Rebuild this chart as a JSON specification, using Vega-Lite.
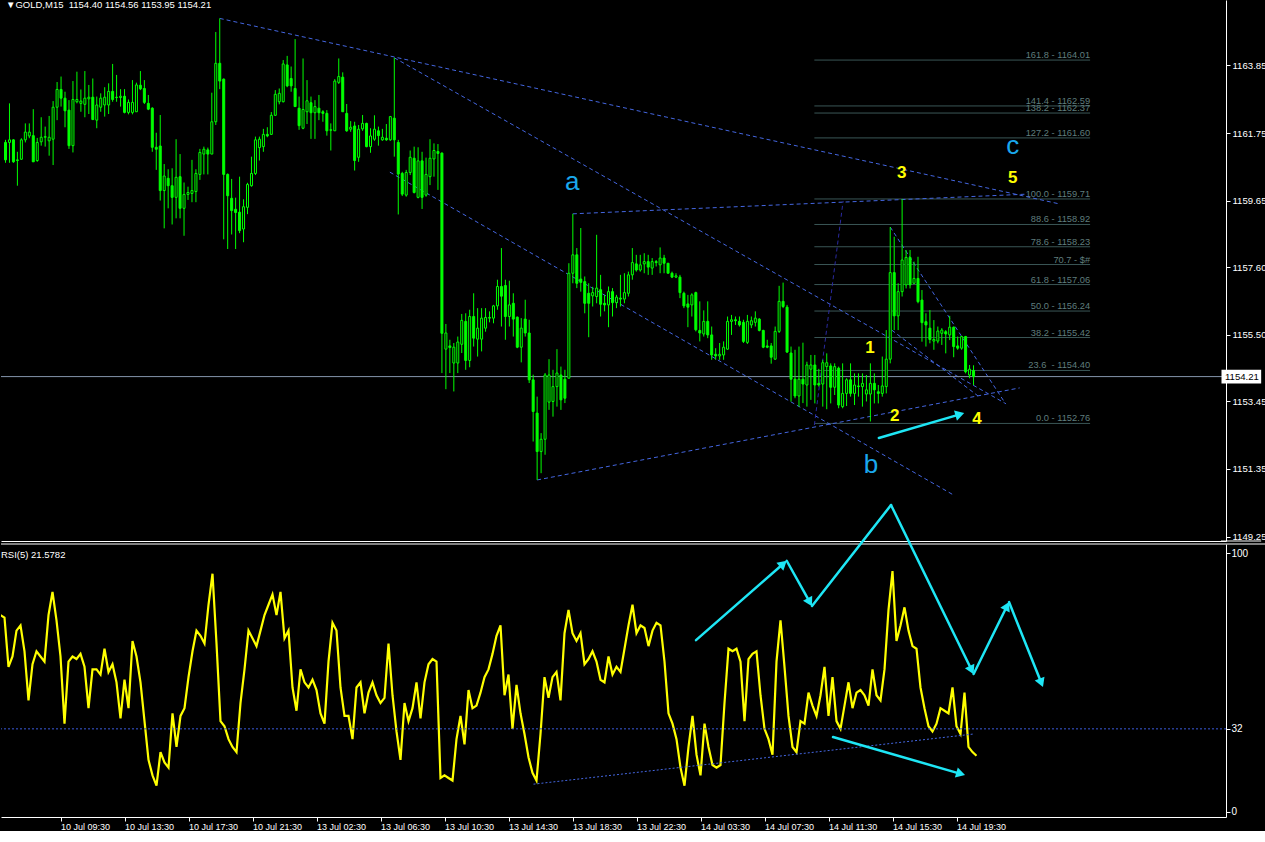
{
"$schema": "https://vega.github.io/schema/vega-lite/v6.json",
"background": "#000000",
"padding": 0,
"autosize": {"type": "pad"},
"spacing": 3,
"bounds": "flush",
"config": {
 "view": {"stroke": null},
 "axis": {"grid": false, "title": null, "domainColor": "#ffffff", "tickColor": "#ffffff", "labelColor": "#ffffff", "labelFont": "Liberation Sans", "labelFontSize": 10, "tickSize": 4, "domainWidth": 1, "tickWidth": 1},
 "text": {"font": "Liberation Sans"}
},
"datasets": {
 "candles": [
{"i":0,"o":1161.46,"h":1161.54,"l":1160.83,"c":1160.92},
{"i":1,"o":1161.46,"h":1162.67,"l":1160.83,"c":1161.54},
{"i":2,"o":1161.54,"h":1161.56,"l":1160.83,"c":1160.86},
{"i":3,"o":1160.92,"h":1161.17,"l":1160.12,"c":1160.90},
{"i":4,"o":1160.94,"h":1161.59,"l":1160.92,"c":1161.54},
{"i":5,"o":1161.54,"h":1162.05,"l":1161.46,"c":1161.78},
{"i":6,"o":1161.66,"h":1162.05,"l":1161.59,"c":1161.78},
{"i":7,"o":1161.67,"h":1162.49,"l":1160.86,"c":1160.86},
{"i":8,"o":1160.90,"h":1161.60,"l":1160.86,"c":1161.46},
{"i":9,"o":1161.48,"h":1162.24,"l":1161.36,"c":1161.62},
{"i":10,"o":1161.62,"h":1161.95,"l":1161.33,"c":1161.64},
{"i":11,"o":1161.51,"h":1162.28,"l":1161.05,"c":1161.62},
{"i":12,"o":1161.56,"h":1162.74,"l":1160.76,"c":1162.55},
{"i":13,"o":1162.55,"h":1163.33,"l":1162.15,"c":1163.10},
{"i":14,"o":1163.10,"h":1163.50,"l":1162.57,"c":1162.83},
{"i":15,"o":1162.83,"h":1163.03,"l":1161.93,"c":1162.44},
{"i":16,"o":1162.46,"h":1162.77,"l":1161.26,"c":1161.36},
{"i":17,"o":1161.36,"h":1163.36,"l":1161.15,"c":1162.79},
{"i":18,"o":1162.72,"h":1163.65,"l":1162.67,"c":1162.79},
{"i":19,"o":1162.67,"h":1163.10,"l":1162.41,"c":1162.74},
{"i":20,"o":1162.64,"h":1163.67,"l":1162.24,"c":1162.83},
{"i":21,"o":1162.81,"h":1163.24,"l":1162.34,"c":1162.86},
{"i":22,"o":1162.86,"h":1163.44,"l":1162.15,"c":1162.17},
{"i":23,"o":1162.15,"h":1162.88,"l":1161.90,"c":1162.62},
{"i":24,"o":1162.55,"h":1162.98,"l":1162.41,"c":1162.83},
{"i":25,"o":1162.62,"h":1163.17,"l":1162.26,"c":1162.86},
{"i":26,"o":1162.62,"h":1163.29,"l":1162.34,"c":1163.04},
{"i":27,"o":1163.04,"h":1163.89,"l":1162.72,"c":1162.79},
{"i":28,"o":1162.86,"h":1163.55,"l":1162.72,"c":1162.85},
{"i":29,"o":1162.85,"h":1163.11,"l":1162.57,"c":1162.89},
{"i":30,"o":1162.89,"h":1163.11,"l":1162.36,"c":1162.39},
{"i":31,"o":1162.39,"h":1162.79,"l":1162.33,"c":1162.70},
{"i":32,"o":1162.39,"h":1163.39,"l":1162.33,"c":1162.70},
{"i":33,"o":1162.41,"h":1163.31,"l":1162.41,"c":1163.24},
{"i":34,"o":1163.23,"h":1163.67,"l":1163.08,"c":1163.12},
{"i":35,"o":1163.13,"h":1163.39,"l":1162.65,"c":1162.70},
{"i":36,"o":1162.67,"h":1162.93,"l":1162.46,"c":1162.49},
{"i":37,"o":1162.52,"h":1162.55,"l":1161.17,"c":1161.31},
{"i":38,"o":1161.31,"h":1161.76,"l":1160.61,"c":1161.25},
{"i":39,"o":1161.35,"h":1162.31,"l":1159.66,"c":1159.97},
{"i":40,"o":1159.97,"h":1160.79,"l":1158.80,"c":1160.42},
{"i":41,"o":1160.35,"h":1160.63,"l":1159.42,"c":1160.12},
{"i":42,"o":1160.12,"h":1160.66,"l":1158.92,"c":1159.76},
{"i":43,"o":1159.76,"h":1161.56,"l":1159.11,"c":1160.38},
{"i":44,"o":1160.40,"h":1161.10,"l":1159.11,"c":1159.42},
{"i":45,"o":1159.42,"h":1160.22,"l":1158.57,"c":1159.85},
{"i":46,"o":1159.85,"h":1160.09,"l":1159.68,"c":1159.91},
{"i":47,"o":1159.88,"h":1160.92,"l":1159.61,"c":1159.97},
{"i":48,"o":1159.94,"h":1160.63,"l":1159.61,"c":1160.50},
{"i":49,"o":1160.47,"h":1161.26,"l":1160.30,"c":1161.15},
{"i":50,"o":1161.10,"h":1161.33,"l":1160.47,"c":1161.25},
{"i":51,"o":1161.23,"h":1161.30,"l":1160.47,"c":1161.10},
{"i":52,"o":1161.10,"h":1163.00,"l":1161.10,"c":1162.10},
{"i":53,"o":1162.10,"h":1164.88,"l":1162.00,"c":1163.91},
{"i":54,"o":1163.91,"h":1165.30,"l":1163.11,"c":1163.36},
{"i":55,"o":1163.42,"h":1163.44,"l":1158.46,"c":1160.47},
{"i":56,"o":1160.47,"h":1160.50,"l":1158.16,"c":1159.81},
{"i":57,"o":1159.73,"h":1160.33,"l":1158.61,"c":1159.35},
{"i":58,"o":1159.39,"h":1159.75,"l":1158.16,"c":1159.29},
{"i":59,"o":1159.30,"h":1160.40,"l":1158.65,"c":1158.73},
{"i":60,"o":1158.78,"h":1159.70,"l":1158.37,"c":1159.47},
{"i":61,"o":1159.45,"h":1160.21,"l":1159.24,"c":1160.16},
{"i":62,"o":1160.12,"h":1161.02,"l":1160.09,"c":1160.50},
{"i":63,"o":1160.50,"h":1161.64,"l":1160.45,"c":1161.54},
{"i":64,"o":1161.30,"h":1161.64,"l":1160.90,"c":1161.56},
{"i":65,"o":1161.33,"h":1161.88,"l":1161.17,"c":1161.71},
{"i":66,"o":1161.71,"h":1161.93,"l":1161.62,"c":1161.66},
{"i":67,"o":1161.71,"h":1162.40,"l":1161.69,"c":1162.30},
{"i":68,"o":1162.30,"h":1163.08,"l":1162.28,"c":1162.95},
{"i":69,"o":1162.72,"h":1163.13,"l":1162.64,"c":1162.98},
{"i":70,"o":1162.72,"h":1164.01,"l":1162.70,"c":1163.89},
{"i":71,"o":1163.86,"h":1164.14,"l":1163.17,"c":1163.21},
{"i":72,"o":1163.44,"h":1163.81,"l":1163.03,"c":1163.21},
{"i":73,"o":1163.13,"h":1164.66,"l":1162.57,"c":1162.57},
{"i":74,"o":1162.52,"h":1162.88,"l":1161.85,"c":1161.98},
{"i":75,"o":1161.90,"h":1164.06,"l":1161.87,"c":1162.48},
{"i":76,"o":1162.41,"h":1163.39,"l":1162.03,"c":1162.75},
{"i":77,"o":1162.69,"h":1162.88,"l":1161.57,"c":1162.38},
{"i":78,"o":1162.38,"h":1162.77,"l":1161.57,"c":1162.57},
{"i":79,"o":1162.52,"h":1162.93,"l":1162.15,"c":1162.38},
{"i":80,"o":1162.41,"h":1162.46,"l":1162.10,"c":1162.36},
{"i":81,"o":1162.36,"h":1162.46,"l":1161.67,"c":1161.82},
{"i":82,"o":1161.85,"h":1162.05,"l":1161.21,"c":1161.84},
{"i":83,"o":1161.82,"h":1163.42,"l":1161.82,"c":1163.36},
{"i":84,"o":1163.32,"h":1164.06,"l":1163.27,"c":1163.50},
{"i":85,"o":1163.48,"h":1163.63,"l":1162.41,"c":1162.41},
{"i":86,"o":1162.36,"h":1162.65,"l":1161.79,"c":1161.82},
{"i":87,"o":1161.87,"h":1162.12,"l":1161.79,"c":1161.93},
{"i":88,"o":1161.97,"h":1162.10,"l":1160.59,"c":1160.90},
{"i":89,"o":1161.00,"h":1162.00,"l":1160.86,"c":1161.87},
{"i":90,"o":1161.88,"h":1162.31,"l":1161.82,"c":1162.05},
{"i":91,"o":1162.05,"h":1162.07,"l":1161.31,"c":1161.33},
{"i":92,"o":1161.33,"h":1161.90,"l":1161.14,"c":1161.66},
{"i":93,"o":1161.56,"h":1162.30,"l":1161.51,"c":1161.87},
{"i":94,"o":1161.82,"h":1161.95,"l":1161.36,"c":1161.67},
{"i":95,"o":1161.54,"h":1161.88,"l":1161.51,"c":1161.62},
{"i":96,"o":1161.59,"h":1162.03,"l":1161.51,"c":1161.54},
{"i":97,"o":1161.54,"h":1162.28,"l":1161.51,"c":1162.26},
{"i":98,"o":1162.21,"h":1164.08,"l":1161.02,"c":1161.54},
{"i":99,"o":1161.46,"h":1161.54,"l":1159.23,"c":1160.48},
{"i":100,"o":1160.50,"h":1160.55,"l":1159.80,"c":1159.86},
{"i":101,"o":1159.83,"h":1160.61,"l":1159.78,"c":1160.53},
{"i":102,"o":1160.53,"h":1161.21,"l":1160.45,"c":1161.00},
{"i":103,"o":1160.97,"h":1161.33,"l":1159.88,"c":1159.91},
{"i":104,"o":1159.76,"h":1161.31,"l":1159.73,"c":1160.89},
{"i":105,"o":1160.89,"h":1161.17,"l":1159.40,"c":1159.76},
{"i":106,"o":1159.83,"h":1160.99,"l":1159.78,"c":1160.47},
{"i":107,"o":1160.40,"h":1161.56,"l":1160.14,"c":1160.97},
{"i":108,"o":1160.95,"h":1161.43,"l":1160.40,"c":1161.21},
{"i":109,"o":1161.18,"h":1161.41,"l":1159.99,"c":1161.12},
{"i":110,"o":1161.13,"h":1161.15,"l":1154.32,"c":1155.55},
{"i":111,"o":1155.06,"h":1155.84,"l":1153.82,"c":1155.56},
{"i":112,"o":1155.16,"h":1155.35,"l":1154.32,"c":1155.11},
{"i":113,"o":1154.63,"h":1155.25,"l":1153.75,"c":1155.12},
{"i":114,"o":1154.63,"h":1155.45,"l":1154.32,"c":1155.28},
{"i":115,"o":1155.21,"h":1156.15,"l":1154.94,"c":1155.95},
{"i":116,"o":1155.92,"h":1156.17,"l":1154.42,"c":1154.71},
{"i":117,"o":1154.71,"h":1156.28,"l":1154.50,"c":1156.07},
{"i":118,"o":1156.07,"h":1156.79,"l":1155.14,"c":1155.40},
{"i":119,"o":1155.37,"h":1156.33,"l":1154.83,"c":1155.71},
{"i":120,"o":1155.37,"h":1156.33,"l":1154.99,"c":1156.02},
{"i":121,"o":1155.71,"h":1156.33,"l":1155.60,"c":1156.04},
{"i":122,"o":1156.04,"h":1156.23,"l":1155.89,"c":1156.02},
{"i":123,"o":1156.02,"h":1156.43,"l":1155.86,"c":1156.40},
{"i":124,"o":1156.40,"h":1157.21,"l":1156.28,"c":1157.00},
{"i":125,"o":1157.00,"h":1158.19,"l":1155.76,"c":1156.70},
{"i":126,"o":1157.03,"h":1157.21,"l":1155.35,"c":1156.07},
{"i":127,"o":1156.07,"h":1157.18,"l":1155.76,"c":1156.43},
{"i":128,"o":1156.48,"h":1156.79,"l":1155.45,"c":1155.99},
{"i":129,"o":1156.05,"h":1156.07,"l":1155.09,"c":1155.12},
{"i":130,"o":1155.12,"h":1156.02,"l":1154.65,"c":1155.71},
{"i":131,"o":1155.99,"h":1156.59,"l":1155.45,"c":1155.56},
{"i":132,"o":1155.56,"h":1155.97,"l":1154.01,"c":1154.11},
{"i":133,"o":1154.11,"h":1154.27,"l":1152.20,"c":1153.13},
{"i":134,"o":1153.08,"h":1153.59,"l":1151.01,"c":1151.89},
{"i":135,"o":1151.89,"h":1152.46,"l":1151.22,"c":1152.27},
{"i":136,"o":1152.27,"h":1154.32,"l":1151.79,"c":1154.26},
{"i":137,"o":1153.42,"h":1154.75,"l":1153.18,"c":1154.26},
{"i":138,"o":1153.44,"h":1154.42,"l":1152.97,"c":1153.90},
{"i":139,"o":1153.90,"h":1155.06,"l":1153.28,"c":1154.32},
{"i":140,"o":1154.26,"h":1154.52,"l":1153.18,"c":1153.49},
{"i":141,"o":1154.13,"h":1154.42,"l":1153.39,"c":1153.54},
{"i":142,"o":1154.16,"h":1157.72,"l":1154.16,"c":1157.41},
{"i":143,"o":1157.41,"h":1159.25,"l":1157.10,"c":1157.98},
{"i":144,"o":1157.98,"h":1158.19,"l":1156.95,"c":1157.10},
{"i":145,"o":1157.23,"h":1158.81,"l":1156.84,"c":1157.13},
{"i":146,"o":1157.15,"h":1157.31,"l":1156.17,"c":1156.48},
{"i":147,"o":1156.79,"h":1157.10,"l":1155.43,"c":1156.48},
{"i":148,"o":1156.71,"h":1156.99,"l":1156.38,"c":1156.81},
{"i":149,"o":1156.69,"h":1158.60,"l":1156.48,"c":1156.95},
{"i":150,"o":1156.90,"h":1157.36,"l":1156.07,"c":1156.45},
{"i":151,"o":1156.48,"h":1156.74,"l":1156.23,"c":1156.43},
{"i":152,"o":1156.43,"h":1157.00,"l":1155.74,"c":1156.84},
{"i":153,"o":1156.84,"h":1156.95,"l":1156.07,"c":1156.50},
{"i":154,"o":1156.50,"h":1156.74,"l":1156.33,"c":1156.67},
{"i":155,"o":1156.64,"h":1157.36,"l":1156.38,"c":1156.61},
{"i":156,"o":1156.61,"h":1157.41,"l":1156.48,"c":1156.81},
{"i":157,"o":1156.79,"h":1157.46,"l":1156.69,"c":1157.36},
{"i":158,"o":1157.36,"h":1158.19,"l":1157.21,"c":1157.74},
{"i":159,"o":1157.70,"h":1157.98,"l":1157.46,"c":1157.51},
{"i":160,"o":1157.51,"h":1157.98,"l":1157.46,"c":1157.67},
{"i":161,"o":1157.70,"h":1158.03,"l":1157.41,"c":1157.77},
{"i":162,"o":1157.77,"h":1157.98,"l":1157.36,"c":1157.60},
{"i":163,"o":1157.57,"h":1157.88,"l":1157.36,"c":1157.77},
{"i":164,"o":1157.77,"h":1157.82,"l":1157.62,"c":1157.74},
{"i":165,"o":1157.67,"h":1158.21,"l":1157.41,"c":1157.88},
{"i":166,"o":1157.88,"h":1157.98,"l":1157.41,"c":1157.72},
{"i":167,"o":1157.72,"h":1157.72,"l":1157.41,"c":1157.41},
{"i":168,"o":1157.41,"h":1157.46,"l":1157.26,"c":1157.29},
{"i":169,"o":1157.29,"h":1157.41,"l":1157.26,"c":1157.33},
{"i":170,"o":1157.29,"h":1157.36,"l":1156.64,"c":1156.81},
{"i":171,"o":1156.79,"h":1156.84,"l":1156.33,"c":1156.40},
{"i":172,"o":1156.46,"h":1156.74,"l":1155.74,"c":1156.36},
{"i":173,"o":1156.43,"h":1156.79,"l":1156.07,"c":1156.74},
{"i":174,"o":1156.81,"h":1156.84,"l":1155.61,"c":1155.66},
{"i":175,"o":1155.64,"h":1156.54,"l":1155.30,"c":1155.56},
{"i":176,"o":1155.53,"h":1156.26,"l":1155.45,"c":1155.92},
{"i":177,"o":1155.92,"h":1156.54,"l":1155.40,"c":1155.50},
{"i":178,"o":1155.50,"h":1155.76,"l":1154.73,"c":1154.88},
{"i":179,"o":1154.90,"h":1155.09,"l":1154.73,"c":1154.85},
{"i":180,"o":1154.85,"h":1155.25,"l":1154.73,"c":1154.90},
{"i":181,"o":1154.88,"h":1155.30,"l":1154.73,"c":1155.12},
{"i":182,"o":1155.06,"h":1156.07,"l":1155.04,"c":1155.92},
{"i":183,"o":1155.92,"h":1156.12,"l":1155.50,"c":1155.97},
{"i":184,"o":1155.97,"h":1156.07,"l":1155.81,"c":1155.94},
{"i":185,"o":1155.92,"h":1156.07,"l":1155.76,"c":1155.81},
{"i":186,"o":1155.89,"h":1155.97,"l":1155.25,"c":1155.30},
{"i":187,"o":1155.27,"h":1156.12,"l":1155.22,"c":1155.92},
{"i":188,"o":1155.81,"h":1156.07,"l":1155.71,"c":1155.94},
{"i":189,"o":1155.89,"h":1156.23,"l":1155.76,"c":1156.02},
{"i":190,"o":1155.99,"h":1156.02,"l":1155.61,"c":1155.64},
{"i":191,"o":1155.64,"h":1155.66,"l":1155.09,"c":1155.12},
{"i":192,"o":1155.16,"h":1155.35,"l":1155.09,"c":1155.12},
{"i":193,"o":1155.16,"h":1155.25,"l":1154.61,"c":1154.81},
{"i":194,"o":1154.75,"h":1155.76,"l":1154.73,"c":1155.61},
{"i":195,"o":1155.61,"h":1157.02,"l":1155.56,"c":1156.54},
{"i":196,"o":1156.54,"h":1157.12,"l":1156.33,"c":1156.38},
{"i":197,"o":1156.36,"h":1156.43,"l":1154.94,"c":1154.97},
{"i":198,"o":1154.94,"h":1155.14,"l":1153.44,"c":1154.13},
{"i":199,"o":1154.13,"h":1155.04,"l":1153.54,"c":1153.61},
{"i":200,"o":1153.61,"h":1155.14,"l":1153.28,"c":1154.13},
{"i":201,"o":1154.13,"h":1155.26,"l":1153.39,"c":1153.98},
{"i":202,"o":1153.95,"h":1154.67,"l":1153.28,"c":1154.57},
{"i":203,"o":1154.44,"h":1154.88,"l":1153.49,"c":1154.57},
{"i":204,"o":1154.57,"h":1154.88,"l":1153.38,"c":1153.95},
{"i":205,"o":1154.00,"h":1154.45,"l":1153.90,"c":1153.95},
{"i":206,"o":1153.98,"h":1154.73,"l":1153.28,"c":1154.64},
{"i":207,"o":1154.52,"h":1154.93,"l":1153.20,"c":1154.64},
{"i":208,"o":1154.54,"h":1154.62,"l":1153.38,"c":1153.88},
{"i":209,"o":1153.88,"h":1154.62,"l":1153.64,"c":1154.52},
{"i":210,"o":1154.47,"h":1154.52,"l":1153.23,"c":1153.33},
{"i":211,"o":1153.28,"h":1154.62,"l":1153.23,"c":1153.69},
{"i":212,"o":1153.69,"h":1154.16,"l":1153.30,"c":1154.11},
{"i":213,"o":1154.11,"h":1154.62,"l":1153.59,"c":1153.69},
{"i":214,"o":1153.69,"h":1154.31,"l":1153.33,"c":1153.95},
{"i":215,"o":1153.92,"h":1154.31,"l":1153.59,"c":1153.90},
{"i":216,"o":1153.90,"h":1154.31,"l":1153.28,"c":1154.00},
{"i":217,"o":1153.67,"h":1154.26,"l":1153.44,"c":1153.80},
{"i":218,"o":1153.67,"h":1154.62,"l":1152.82,"c":1154.00},
{"i":219,"o":1154.00,"h":1154.31,"l":1153.38,"c":1153.80},
{"i":220,"o":1153.74,"h":1153.95,"l":1153.38,"c":1153.69},
{"i":221,"o":1153.69,"h":1154.83,"l":1153.59,"c":1153.92},
{"i":222,"o":1153.90,"h":1155.65,"l":1153.69,"c":1154.75},
{"i":223,"o":1154.75,"h":1158.84,"l":1154.62,"c":1157.43},
{"i":224,"o":1157.43,"h":1158.54,"l":1155.65,"c":1156.09},
{"i":225,"o":1156.09,"h":1157.10,"l":1155.65,"c":1156.84},
{"i":226,"o":1156.84,"h":1159.71,"l":1156.69,"c":1157.82},
{"i":227,"o":1157.05,"h":1158.13,"l":1156.94,"c":1157.90},
{"i":228,"o":1157.90,"h":1158.13,"l":1156.94,"c":1157.05},
{"i":229,"o":1157.10,"h":1157.77,"l":1157.08,"c":1157.25},
{"i":230,"o":1157.25,"h":1157.92,"l":1156.48,"c":1156.53},
{"i":231,"o":1156.58,"h":1156.89,"l":1155.29,"c":1155.88},
{"i":232,"o":1155.91,"h":1156.17,"l":1155.14,"c":1155.81},
{"i":233,"o":1155.71,"h":1156.27,"l":1155.24,"c":1155.36},
{"i":234,"o":1155.31,"h":1155.96,"l":1155.04,"c":1155.36},
{"i":235,"o":1155.31,"h":1155.76,"l":1155.24,"c":1155.62},
{"i":236,"o":1155.55,"h":1155.71,"l":1155.19,"c":1155.65},
{"i":237,"o":1155.60,"h":1155.65,"l":1154.93,"c":1155.53},
{"i":238,"o":1155.50,"h":1156.09,"l":1155.34,"c":1155.74},
{"i":239,"o":1155.74,"h":1155.76,"l":1154.81,"c":1155.14},
{"i":240,"o":1155.16,"h":1155.45,"l":1155.04,"c":1155.09},
{"i":241,"o":1155.09,"h":1155.47,"l":1155.04,"c":1155.45},
{"i":242,"o":1155.45,"h":1155.47,"l":1154.31,"c":1154.36},
{"i":243,"o":1154.26,"h":1154.57,"l":1154.16,"c":1154.44},
{"i":244,"o":1154.40,"h":1154.56,"l":1153.95,"c":1154.21}
 ],
 "rsi": [
{"i":0,"v":76},{"i":1,"v":75},{"i":2,"v":56},{"i":3,"v":60},{"i":4,"v":70},{"i":5,"v":72},{"i":6,"v":62},{"i":7,"v":43},{"i":8,"v":57},{"i":9,"v":62},
{"i":10,"v":60},{"i":11,"v":58},{"i":12,"v":76},{"i":13,"v":85},{"i":14,"v":74},{"i":15,"v":60},{"i":16,"v":34},{"i":17,"v":58},{"i":18,"v":60},{"i":19,"v":59},
{"i":20,"v":61},{"i":21,"v":56},{"i":22,"v":40},{"i":23,"v":55},{"i":24,"v":55},{"i":25,"v":53},{"i":26,"v":63},{"i":27,"v":54},{"i":28,"v":57},{"i":29,"v":50},
{"i":30,"v":36},{"i":31,"v":51},{"i":32,"v":40},{"i":33,"v":66},{"i":34,"v":60},{"i":35,"v":50},{"i":36,"v":35},{"i":37,"v":20},{"i":38,"v":14},{"i":39,"v":10},
{"i":40,"v":23},{"i":41,"v":19},{"i":42,"v":17},{"i":43,"v":38},{"i":44,"v":25},{"i":45,"v":37},{"i":46,"v":40},{"i":47,"v":52},{"i":48,"v":62},{"i":49,"v":70},
{"i":50,"v":68},{"i":51,"v":65},{"i":52,"v":80},{"i":53,"v":92},{"i":54,"v":65},{"i":55,"v":35},{"i":56,"v":33},{"i":57,"v":28},{"i":58,"v":25},{"i":59,"v":23},
{"i":60,"v":42},{"i":61,"v":55},{"i":62,"v":70},{"i":63,"v":67},{"i":64,"v":64},{"i":65,"v":70},{"i":66,"v":76},{"i":67,"v":80},{"i":68,"v":84},{"i":69,"v":76},
{"i":70,"v":85},{"i":71,"v":67},{"i":72,"v":70},{"i":73,"v":48},{"i":74,"v":39},{"i":75,"v":55},{"i":76,"v":50},{"i":77,"v":48},{"i":78,"v":51},{"i":79,"v":47},
{"i":80,"v":38},{"i":81,"v":34},{"i":82,"v":58},{"i":83,"v":73},{"i":84,"v":70},{"i":85,"v":48},{"i":86,"v":37},{"i":87,"v":37},{"i":88,"v":28},{"i":89,"v":48},
{"i":90,"v":50},{"i":91,"v":38},{"i":92,"v":46},{"i":93,"v":50},{"i":94,"v":45},{"i":95,"v":42},{"i":96,"v":44},{"i":97,"v":65},{"i":98,"v":45},{"i":99,"v":31},
{"i":100,"v":20},{"i":101,"v":42},{"i":102,"v":35},{"i":103,"v":40},{"i":104,"v":50},{"i":105,"v":36},{"i":106,"v":50},{"i":107,"v":57},{"i":108,"v":59},{"i":109,"v":58},
{"i":110,"v":13},{"i":111,"v":14},{"i":112,"v":13},{"i":113,"v":12},{"i":114,"v":28},{"i":115,"v":37},{"i":116,"v":26},{"i":117,"v":47},{"i":118,"v":40},{"i":119,"v":41},
{"i":120,"v":46},{"i":121,"v":52},{"i":122,"v":55},{"i":123,"v":61},{"i":124,"v":68},{"i":125,"v":72},{"i":126,"v":45},{"i":127,"v":53},{"i":128,"v":32},{"i":129,"v":49},
{"i":130,"v":38},{"i":131,"v":30},{"i":132,"v":21},{"i":133,"v":15},{"i":134,"v":12},{"i":135,"v":30},{"i":136,"v":52},{"i":137,"v":44},{"i":138,"v":52},{"i":139,"v":54},
{"i":140,"v":43},{"i":141,"v":69},{"i":142,"v":78},{"i":143,"v":69},{"i":144,"v":66},{"i":145,"v":69},{"i":146,"v":57},{"i":147,"v":59},{"i":148,"v":62},{"i":149,"v":58},
{"i":150,"v":51},{"i":151,"v":50},{"i":152,"v":60},{"i":153,"v":53},{"i":154,"v":56},{"i":155,"v":54},{"i":156,"v":63},{"i":157,"v":72},{"i":158,"v":80},{"i":159,"v":69},
{"i":160,"v":72},{"i":161,"v":71},{"i":162,"v":64},{"i":163,"v":70},{"i":164,"v":73},{"i":165,"v":72},{"i":166,"v":58},{"i":167,"v":38},{"i":168,"v":34},{"i":169,"v":28},
{"i":170,"v":17},{"i":171,"v":10},{"i":172,"v":25},{"i":173,"v":37},{"i":174,"v":22},{"i":175,"v":14},{"i":176,"v":34},{"i":177,"v":25},{"i":178,"v":18},{"i":179,"v":17},
{"i":180,"v":18},{"i":181,"v":42},{"i":182,"v":63},{"i":183,"v":62},{"i":184,"v":63},{"i":185,"v":58},{"i":186,"v":35},{"i":187,"v":59},{"i":188,"v":61},{"i":189,"v":62},
{"i":190,"v":45},{"i":191,"v":32},{"i":192,"v":28},{"i":193,"v":22},{"i":194,"v":58},{"i":195,"v":74},{"i":196,"v":56},{"i":197,"v":37},{"i":198,"v":25},{"i":199,"v":23},
{"i":200,"v":35},{"i":201,"v":34},{"i":202,"v":46},{"i":203,"v":41},{"i":204,"v":37},{"i":205,"v":45},{"i":206,"v":56},{"i":207,"v":37},{"i":208,"v":52},{"i":209,"v":35},
{"i":210,"v":32},{"i":211,"v":41},{"i":212,"v":50},{"i":213,"v":40},{"i":214,"v":46},{"i":215,"v":47},{"i":216,"v":45},{"i":217,"v":41},{"i":218,"v":55},{"i":219,"v":45},
{"i":220,"v":43},{"i":221,"v":55},{"i":222,"v":78},{"i":223,"v":93},{"i":224,"v":66},{"i":225,"v":72},{"i":226,"v":79},{"i":227,"v":70},{"i":228,"v":64},{"i":229,"v":63},
{"i":230,"v":48},{"i":231,"v":40},{"i":232,"v":33},{"i":233,"v":31},{"i":234,"v":34},{"i":235,"v":40},{"i":236,"v":39},{"i":237,"v":38},{"i":238,"v":48},{"i":239,"v":33},
{"i":240,"v":30},{"i":241,"v":46},{"i":242,"v":25},{"i":243,"v":23},{"i":244,"v":21.58}
 ],
 "fib": [
{"lv":"161.8 - 1164.01","p":1164.01},{"lv":"141.4 - 1162.59","p":1162.59},{"lv":"138.2 - 1162.37","p":1162.37},{"lv":"127.2 - 1161.60","p":1161.60},
{"lv":"100.0 - 1159.71","p":1159.71},{"lv":"88.6 - 1158.92","p":1158.92},{"lv":"78.6 - 1158.23","p":1158.23},{"lv":"70.7 - $#","p":1157.68},
{"lv":"61.8 - 1157.06","p":1157.06},{"lv":"50.0 - 1156.24","p":1156.24},{"lv":"38.2 - 1155.42","p":1155.42},{"lv":"23.6 \u00a0- 1154.40","p":1154.40},{"lv":"0.0 - 1152.76","p":1152.76}
 ],
 "blueLines": [
{"i1":54,"p1":1165.30,"i2":265.88,"p2":1159.55},
{"i1":98,"p1":1164.08,"i2":251.88,"p2":1153.39},
{"i1":96.88,"p1":1160.54,"i2":238.88,"p2":1150.55},
{"i1":143,"p1":1159.25,"i2":257.63,"p2":1159.86},
{"i1":134,"p1":1151.01,"i2":255.63,"p2":1153.86},
{"i1":223,"p1":1158.84,"i2":252.13,"p2":1153.36},
{"i1":223.38,"p1":1155.65,"i2":245.13,"p2":1153.61}
 ],
 "navyLine": [{"i1":203.88,"p1":1152.71,"i2":211.13,"p2":1159.65}],
 "waveLetters": [{"t":"a","i":142.88,"p":1159.99},{"t":"b","i":218.13,"p":1151.23},{"t":"c","i":253.88,"p":1161.11}],
 "waveNumbers": [{"t":"1","i":217.88,"p":1154.94},{"t":"2","i":224.13,"p":1152.83},{"t":"3","i":225.88,"p":1160.36},{"t":"4","i":244.88,"p":1152.74},{"t":"5","i":253.88,"p":1160.20}],
 "priceArrow": [{"i1":220.13,"p1":1152.31,"i2":240.55,"p2":1153.04}],
 "priceArrowHead": [{"i":240.55,"p":1153.04,"dir":73.8}],
 "rsiTrend": [{"i1":133.25,"v1":10.6,"i2":243.28,"v2":30.0}],
 "rsiArrows": [
{"i1":173.88,"v1":66.34,"i2":195.70,"v2":95.86},
{"i1":196.55,"v1":97.02,"i2":202.33,"v2":81.0},
{"i1":202.88,"v1":79.50,"i2":222.63,"v2":118.57},
{"i1":222.63,"v1":118.57,"i2":242.78,"v2":54.74},
{"i1":243.28,"v1":53.19,"i2":251.63,"v2":79.5},
{"i1":252.13,"v1":81.04,"i2":260.2,"v2":49.8},
{"i1":208.13,"v1":28.82,"i2":240.05,"v2":14.6}
 ],
 "rsiArrowHeads": [
{"i":195.70,"v":95.86,"dir":48.8},{"i":202.33,"v":81.0,"dir":150.8},{"i":242.78,"v":54.74,"dir":153.9},
{"i":251.63,"v":79.5,"dir":26.2},{"i":260.2,"v":49.8,"dir":158.2},{"i":240.05,"v":14.6,"dir":106.1}
 ]
},
"vconcat": [
{
 "width": 1225,
 "height": 541,
 "layer": [
  {
   "data": {"name": "fib"},
   "mark": {"type": "rule", "color": "#3a5656", "strokeWidth": 1},
   "encoding": {
    "x": {"datum": 203.88, "type": "quantitative", "scale": {"domain": [0.125, 306.375], "nice": false, "zero": false}, "axis": {"labels": false, "ticks": false, "domain": true}},
    "x2": {"datum": 273.38},
    "y": {"field": "p", "type": "quantitative", "scale": {"domain": [1149.12, 1165.87], "nice": false, "zero": false},
      "axis": {"orient": "right", "values": [1149.25,1150.30,1151.35,1152.40,1153.45,1154.45,1155.50,1156.55,1157.60,1158.65,1159.65,1160.70,1161.75,1162.80,1163.85,1164.85], "format": ".2f", "labelFontSize": 9.6, "labelPadding": 2, "labelOverlap": false, "labelBound": false, "labelFlush": false}}
   }
  },
  {
   "data": {"name": "fib"},
   "mark": {"type": "text", "color": "#5f7d7d", "fontSize": 9.3, "align": "right", "baseline": "alphabetic", "dy": -2},
   "encoding": {
    "x": {"datum": 273.38, "type": "quantitative", "scale": {"domain": [0.125, 306.375], "nice": false, "zero": false}},
    "y": {"field": "p", "type": "quantitative", "scale": {"domain": [1149.12, 1165.87], "nice": false, "zero": false}},
    "text": {"field": "lv", "type": "nominal"}
   }
  },
  {
   "data": {"name": "blueLines"},
   "mark": {"type": "rule", "color": "#4466e0", "strokeWidth": 1, "strokeDash": [4, 3]},
   "encoding": {
    "x": {"field": "i1", "type": "quantitative", "scale": {"domain": [0.125, 306.375], "nice": false, "zero": false}},
    "x2": {"field": "i2"},
    "y": {"field": "p1", "type": "quantitative", "scale": {"domain": [1149.12, 1165.87], "nice": false, "zero": false}},
    "y2": {"field": "p2"}
   }
  },
  {
   "data": {"name": "navyLine"},
   "mark": {"type": "rule", "color": "#2a2aa0", "strokeWidth": 1, "strokeDash": [4, 3]},
   "encoding": {
    "x": {"field": "i1", "type": "quantitative", "scale": {"domain": [0.125, 306.375], "nice": false, "zero": false}},
    "x2": {"field": "i2"},
    "y": {"field": "p1", "type": "quantitative", "scale": {"domain": [1149.12, 1165.87], "nice": false, "zero": false}},
    "y2": {"field": "p2"}
   }
  },
  {
   "data": {"values": [{"p": 1154.21}]},
   "mark": {"type": "rule", "color": "#8595ad", "strokeWidth": 1},
   "encoding": {
    "y": {"field": "p", "type": "quantitative", "scale": {"domain": [1149.12, 1165.87], "nice": false, "zero": false}}
   }
  },
  {
   "data": {"values": [{"p": 1149.12}]},
   "mark": {"type": "rule", "color": "#ffffff", "strokeWidth": 1},
   "encoding": {
    "x": {"datum": 306.375, "type": "quantitative", "scale": {"domain": [0.125, 306.375], "nice": false, "zero": false}},
    "x2": {"datum": 316.5},
    "y": {"field": "p", "type": "quantitative", "scale": {"domain": [1149.12, 1165.87], "nice": false, "zero": false}}
   }
  },
  {
   "data": {"name": "candles"},
   "mark": {"type": "rule", "color": "#00ff00", "strokeWidth": 1, "clip": true},
   "encoding": {
    "x": {"field": "i", "type": "quantitative", "scale": {"domain": [0.125, 306.375], "nice": false, "zero": false}},
    "y": {"field": "l", "type": "quantitative", "scale": {"domain": [1149.12, 1165.87], "nice": false, "zero": false}},
    "y2": {"field": "h"}
   }
  },
  {
   "data": {"name": "candles"},
   "mark": {"type": "bar", "size": 2, "stroke": "#00ff00", "strokeWidth": 1, "orient": "vertical", "clip": true},
   "encoding": {
    "x": {"field": "i", "type": "quantitative", "scale": {"domain": [0.125, 306.375], "nice": false, "zero": false}},
    "y": {"field": "o", "type": "quantitative", "scale": {"domain": [1149.12, 1165.87], "nice": false, "zero": false}},
    "y2": {"field": "c"},
    "fill": {"condition": {"test": "datum.c >= datum.o", "value": "#000000"}, "value": "#00ff00"}
   }
  },
  {
   "data": {"name": "waveLetters"},
   "mark": {"type": "text", "color": "#1aa8ec", "fontSize": 26, "align": "center", "baseline": "alphabetic"},
   "encoding": {
    "x": {"field": "i", "type": "quantitative", "scale": {"domain": [0.125, 306.375], "nice": false, "zero": false}},
    "y": {"field": "p", "type": "quantitative", "scale": {"domain": [1149.12, 1165.87], "nice": false, "zero": false}},
    "text": {"field": "t", "type": "nominal"}
   }
  },
  {
   "data": {"name": "waveNumbers"},
   "mark": {"type": "text", "color": "#ffff00", "fontSize": 17, "fontWeight": "bold", "align": "center", "baseline": "alphabetic"},
   "encoding": {
    "x": {"field": "i", "type": "quantitative", "scale": {"domain": [0.125, 306.375], "nice": false, "zero": false}},
    "y": {"field": "p", "type": "quantitative", "scale": {"domain": [1149.12, 1165.87], "nice": false, "zero": false}},
    "text": {"field": "t", "type": "nominal"}
   }
  },
  {
   "data": {"name": "priceArrow"},
   "mark": {"type": "rule", "color": "#1ee6f5", "strokeWidth": 2.5, "strokeCap": "round"},
   "encoding": {
    "x": {"field": "i1", "type": "quantitative", "scale": {"domain": [0.125, 306.375], "nice": false, "zero": false}},
    "x2": {"field": "i2"},
    "y": {"field": "p1", "type": "quantitative", "scale": {"domain": [1149.12, 1165.87], "nice": false, "zero": false}},
    "y2": {"field": "p2"}
   }
  },
  {
   "data": {"name": "priceArrowHead"},
   "mark": {"type": "point", "shape": "triangle-up", "filled": true, "size": 110, "color": "#1ee6f5", "opacity": 1},
   "encoding": {
    "x": {"field": "i", "type": "quantitative", "scale": {"domain": [0.125, 306.375], "nice": false, "zero": false}},
    "y": {"field": "p", "type": "quantitative", "scale": {"domain": [1149.12, 1165.87], "nice": false, "zero": false}},
    "angle": {"field": "dir", "type": "quantitative", "scale": null}
   }
  },
  {
   "data": {"values": [{"t": "\u25bcGOLD,M15\u00a0 1154.40 1154.56 1153.95 1154.21", "i": 0.125, "p": 1165.61}]},
   "mark": {"type": "text", "color": "#ffffff", "fontSize": 9.5, "align": "left", "baseline": "alphabetic"},
   "encoding": {
    "x": {"field": "i", "type": "quantitative", "scale": {"domain": [0.125, 306.375], "nice": false, "zero": false}},
    "y": {"field": "p", "type": "quantitative", "scale": {"domain": [1149.12, 1165.87], "nice": false, "zero": false}},
    "text": {"field": "t", "type": "nominal"}
   }
  },
  {
   "data": {"values": [{"p1": 1154.42, "p2": 1154.00}]},
   "mark": {"type": "rect", "color": "#ffffff"},
   "encoding": {
    "x": {"datum": 306.5, "type": "quantitative", "scale": {"domain": [0.125, 306.375], "nice": false, "zero": false}},
    "x2": {"datum": 316.5},
    "y": {"field": "p1", "type": "quantitative", "scale": {"domain": [1149.12, 1165.87], "nice": false, "zero": false}},
    "y2": {"field": "p2"}
   }
  },
  {
   "data": {"values": [{"t": "1154.21", "p": 1154.21}]},
   "mark": {"type": "text", "color": "#000000", "fontSize": 9.6, "align": "left", "baseline": "middle"},
   "encoding": {
    "x": {"datum": 307.38, "type": "quantitative", "scale": {"domain": [0.125, 306.375], "nice": false, "zero": false}},
    "y": {"field": "p", "type": "quantitative", "scale": {"domain": [1149.12, 1165.87], "nice": false, "zero": false}},
    "text": {"field": "t", "type": "nominal"}
   }
  }
 ]
},
{
 "width": 1225,
 "height": 273,
 "layer": [
  {
   "data": {"name": "rsi"},
   "mark": {"type": "line", "color": "#ffff00", "strokeWidth": 2.2, "clip": true},
   "encoding": {
    "x": {"field": "i", "type": "quantitative", "scale": {"domain": [0.125, 306.375], "nice": false, "zero": false},
      "axis": {"values": [15,31,47,63,79,95,111,127,143,159,175,191,207,223,239],
        "labelExpr": "['10 Jul 09:30','10 Jul 13:30','10 Jul 17:30','10 Jul 21:30','13 Jul 02:30','13 Jul 06:30','13 Jul 10:30','13 Jul 14:30','13 Jul 18:30','13 Jul 22:30','14 Jul 03:30','14 Jul 07:30','14 Jul 11:30','14 Jul 15:30','14 Jul 19:30'][round((datum.value - 15) / 16)]",
        "labelFontSize": 9, "labelAlign": "left", "labelBaseline": "top", "labelPadding": 1, "labelOverlap": false, "labelFlush": false, "labelBound": false}},
    "y": {"field": "v", "type": "quantitative", "scale": {"domain": [-2.1, 103.5], "nice": false, "zero": false},
      "axis": {"orient": "right", "values": [0, 32, 100], "labelPadding": 1, "labelFontSize": 10}}
   }
  },
  {
   "data": {"values": [{"v": 103.5}]},
   "mark": {"type": "rule", "color": "#ffffff", "strokeWidth": 1},
   "encoding": {
    "x": {"datum": 0.125, "type": "quantitative", "scale": {"domain": [0.125, 306.375], "nice": false, "zero": false}},
    "x2": {"datum": 316.5},
    "y": {"field": "v", "type": "quantitative", "scale": {"domain": [-2.1, 103.5], "nice": false, "zero": false}}
   }
  },
  {
   "data": {"values": [{"v": 32}]},
   "mark": {"type": "rule", "color": "#3b5bdb", "strokeWidth": 1, "strokeDash": [2, 2]},
   "encoding": {
    "y": {"field": "v", "type": "quantitative", "scale": {"domain": [-2.1, 103.5], "nice": false, "zero": false}}
   }
  },
  {
   "data": {"name": "rsiTrend"},
   "mark": {"type": "rule", "color": "#4466e0", "strokeWidth": 1, "strokeDash": [2, 2]},
   "encoding": {
    "x": {"field": "i1", "type": "quantitative", "scale": {"domain": [0.125, 306.375], "nice": false, "zero": false}},
    "x2": {"field": "i2"},
    "y": {"field": "v1", "type": "quantitative", "scale": {"domain": [-2.1, 103.5], "nice": false, "zero": false}},
    "y2": {"field": "v2"}
   }
  },
  {
   "data": {"name": "rsiArrows"},
   "mark": {"type": "rule", "color": "#1ee6f5", "strokeWidth": 2.5, "strokeCap": "round"},
   "encoding": {
    "x": {"field": "i1", "type": "quantitative", "scale": {"domain": [0.125, 306.375], "nice": false, "zero": false}},
    "x2": {"field": "i2"},
    "y": {"field": "v1", "type": "quantitative", "scale": {"domain": [-2.1, 103.5], "nice": false, "zero": false}},
    "y2": {"field": "v2"}
   }
  },
  {
   "data": {"name": "rsiArrowHeads"},
   "mark": {"type": "point", "shape": "triangle-up", "filled": true, "size": 110, "color": "#1ee6f5", "opacity": 1},
   "encoding": {
    "x": {"field": "i", "type": "quantitative", "scale": {"domain": [0.125, 306.375], "nice": false, "zero": false}},
    "y": {"field": "v", "type": "quantitative", "scale": {"domain": [-2.1, 103.5], "nice": false, "zero": false}},
    "angle": {"field": "dir", "type": "quantitative", "scale": null}
   }
  },
  {
   "data": {"values": [{"t": "RSI(5) 21.5782", "i": 0.125, "v": 98.0}]},
   "mark": {"type": "text", "color": "#ffffff", "fontSize": 9.5, "align": "left", "baseline": "alphabetic"},
   "encoding": {
    "x": {"field": "i", "type": "quantitative", "scale": {"domain": [0.125, 306.375], "nice": false, "zero": false}},
    "y": {"field": "v", "type": "quantitative", "scale": {"domain": [-2.1, 103.5], "nice": false, "zero": false}},
    "text": {"field": "t", "type": "nominal"}
   }
  }
 ]
}
]
}
